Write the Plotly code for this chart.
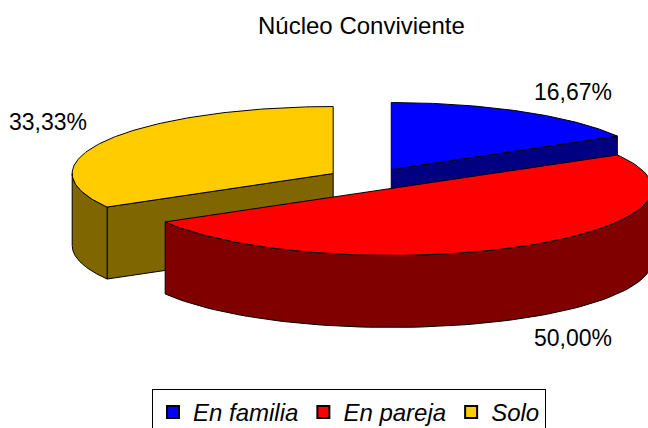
import numpy as np
import plotly.graph_objects as go

# ---- data ----
title_text = "Núcleo Conviviente"
categories = ["En familia", "En pareja", "Solo"]
shares = [16.67, 50.00, 33.33]

# ---- style ----
top_colors = ["#0000FF", "#FF0000", "#FFCC00"]
side_colors = ["#000080", "#800000", "#806600"]
FONT = "Liberation Sans, Arial, sans-serif"

W, H = 648, 428
CX, CY = 370, 179        # pie centre (axis units = pixels)
RX, RY = 261, 67         # ellipse radii
DEPTH = 72               # pie thickness
EXPLODE = 42.5           # explosion distance
LABEL_F = 1.08

total = sum(shares)
cum = np.cumsum([0] + shares)
starts = cum[:-1] / total * 360.0
ends = cum[1:] / total * 360.0


def ell(cx, cy, ang, f=1.0):
    a = np.radians(ang)
    return cx + f * RX * np.sin(a), cy - f * RY * np.cos(a)


fig = go.Figure()
slices = []
for i, (a0, a1) in enumerate(zip(starts, ends)):
    m = np.radians((a0 + a1) / 2)
    cx = CX + EXPLODE * np.sin(m)
    cy = CY - EXPLODE * (RY / RX) * np.cos(m)
    slices.append((cy, i, a0, a1, cx))

polys = []
for cy, i, a0, a1, cx in sorted(slices):
    faces = []
    # radial faces
    for edge, visible in ((a0, np.sin(np.radians(a0)) < -1e-9),
                          (a1, np.sin(np.radians(a1)) > 1e-9)):
        if visible:
            ex, ey = ell(cx, cy, edge)
            faces.append(([cx, ex, ex, cx, cx],
                          [cy, ey, ey + DEPTH, cy + DEPTH, cy], side_colors[i]))
    # outer wall (front half only)
    lo, hi = max(a0, 90.0), min(a1, 270.0)
    if hi > lo:
        angs = np.linspace(lo, hi, 80)
        tx, ty = ell(cx, cy, angs)
        xs = list(tx) + list(tx[::-1]) + [tx[0]]
        ys = list(ty) + list(ty[::-1] + DEPTH) + [ty[0]]
        faces.append((xs, ys, side_colors[i]))
    # top
    angs = np.linspace(a0, a1, 120)
    tx, ty = ell(cx, cy, angs)
    faces.append(([cx] + list(tx) + [cx], [cy] + list(ty) + [cy], top_colors[i]))
    polys.extend(faces)

for xs, ys, col in polys:
    fig.add_trace(go.Scatter(x=xs, y=ys, mode="lines", fill="toself",
                             fillcolor=col, line=dict(color="black", width=1),
                             hoverinfo="skip", showlegend=False))

# legend entries
for cat, col in zip(categories, top_colors):
    fig.add_trace(go.Scatter(x=[None], y=[None], mode="markers", name=cat,
                             marker=dict(symbol="square", size=14, color=col,
                                         line=dict(color="black", width=1))))

# percentage labels
annotations = []
for cy, i, a0, a1, cx in slices:
    m = (a0 + a1) / 2
    lx, ly = ell(cx, cy, m, LABEL_F)
    below = np.cos(np.radians(m)) < 0
    if below:
        ly += DEPTH
    txt = f"{shares[i]:.2f}".replace(".", ",") + "%"
    annotations.append(dict(x=lx, y=ly, xref="x", yref="y", text=txt,
                            showarrow=False,
                            xanchor="left" if np.sin(np.radians(m)) > 0 else "right",
                            yanchor="top" if below else "bottom",
                            font=dict(family=FONT, size=23, color="black")))

annotations.append(dict(x=361, y=25, xref="x", yref="y", text=title_text,
                        showarrow=False, xanchor="center", yanchor="middle",
                        font=dict(family=FONT, size=24, color="black")))

fig.update_layout(
    width=W, height=H,
    margin=dict(l=0, r=0, t=0, b=0, autoexpand=False),
    paper_bgcolor="white", plot_bgcolor="white",
    xaxis=dict(range=[0, W], visible=False, fixedrange=True),
    yaxis=dict(range=[H, 0], visible=False, fixedrange=True),
    annotations=annotations,
    showlegend=True,
    legend=dict(orientation="h", x=349 / W, xanchor="center",
                y=1 - 389 / H, yanchor="top",
                bgcolor="white", bordercolor="black", borderwidth=1,
                font=dict(family=FONT, size=24, color="black", style="italic"),
                itemsizing="constant"),
)

fig.write_html("out.html", config={"displayModeBar": False},
               post_script="document.body.style.margin='0';")
